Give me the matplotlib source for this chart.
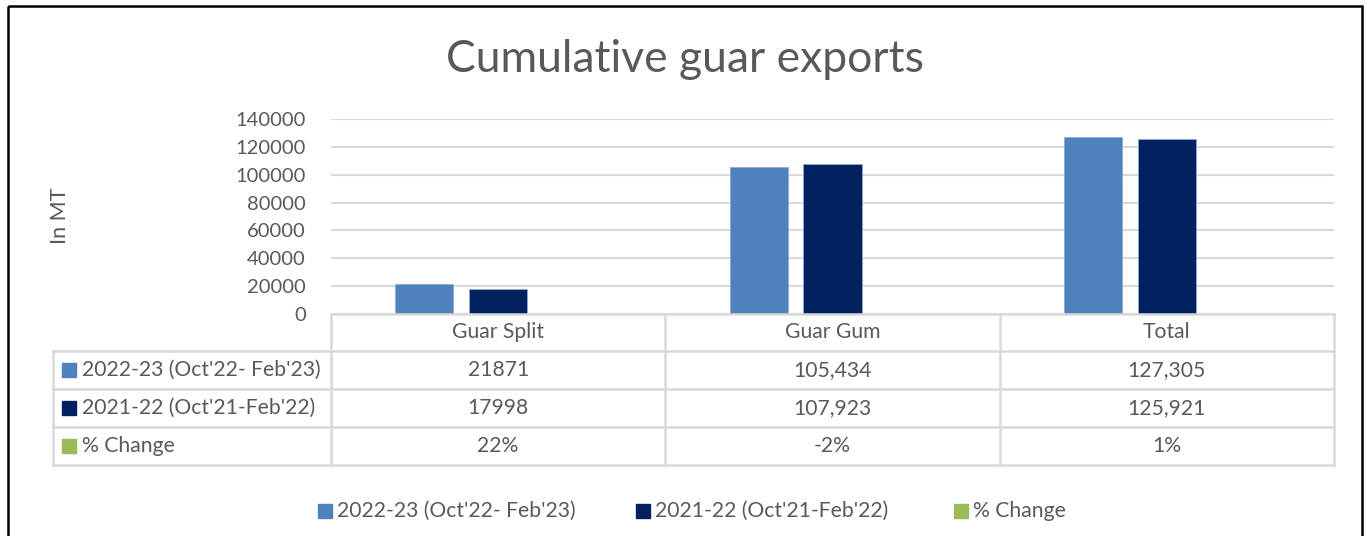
import matplotlib
matplotlib.use("Agg")
import matplotlib.pyplot as plt
from matplotlib.patches import Rectangle
from matplotlib.lines import Line2D
import numpy as np

plt.rcParams['font.family'] = ['Lato', 'DejaVu Sans']

categories = ["Guar Split", "Guar Gum", "Total"]
series_names = ["2022-23 (Oct'22- Feb'23)", "2021-22 (Oct'21-Feb'22)", "% Change"]
vals_2223 = [21871, 105434, 127305]
vals_2122 = [17998, 107923, 125921]
pct_change = [22, -2, 1]
value_fmt = ["{:d}", "{:,d}", "{:,d}"]
yticks = [0, 20000, 40000, 60000, 80000, 100000, 120000, 140000]

colors = ["#4f81bd", "#03215e", "#9bbb59"]
txt = "#595959"
grid_c = "#d9d9d9"

W, H = 1369, 536
fig = plt.figure(figsize=(W / 100, H / 100), dpi=100)

def fx(px):
    return px / W

def fy(py):
    return 1 - py / H

x_left, x_right = 331, 1334
y_zero, y_top = 314, 119
ax = fig.add_axes([fx(x_left), fy(y_zero), fx(x_right) - fx(x_left), fy(y_top) - fy(y_zero)])
x = np.arange(len(categories))
step = 0.221
bw = 0.1735
series = [vals_2223, vals_2122, [p / 100 for p in pct_change]]
for i, (vals, c) in enumerate(zip(series, colors)):
    ax.bar(x + (i - 1) * step, vals, width=bw, color=c, edgecolor="#8eaadb" if i < 2 else c,
           linewidth=0.6, zorder=3)
ax.set_xlim(-0.5, len(categories) - 0.5)
ax.set_ylim(0, 140000)
ax.set_yticks(yticks)
ax.set_yticklabels([str(v) for v in yticks], fontsize=14.5, color=txt)
ax.tick_params(axis='y', length=0, pad=18)
ax.set_xticks([])
for s in ax.spines.values():
    s.set_visible(False)
ax.yaxis.grid(True, color=grid_c, linewidth=1.5, zorder=0)
ax.set_axisbelow(True)

# overlay in pixel coordinates
ov = fig.add_axes([0, 0, 1, 1])
ov.set_xlim(0, W)
ov.set_ylim(H, 0)
ov.axis("off")
ov.patch.set_alpha(0)

ov.text(685, 60, "Cumulative guar exports", fontsize=32, color=txt, ha="center", va="center")
ov.text(60, 216, "In MT", fontsize=15.5, color=txt, rotation=90, ha="center", va="center")

# table
col_edges = [x_left + (x_right - x_left) * k / len(categories) for k in range(len(categories) + 1)]
row_y = [314, 351, 389, 427, 465]
lw = 1.8
ov.add_line(Line2D([x_left, x_right], [row_y[0]] * 2, color=grid_c, lw=lw))
for yy in row_y[1:]:
    ov.add_line(Line2D([53, x_right], [yy, yy], color=grid_c, lw=lw))
ov.add_line(Line2D([53, 53], [row_y[1], row_y[-1]], color=grid_c, lw=lw))
for xx in col_edges:
    ov.add_line(Line2D([xx, xx], [row_y[0], row_y[-1]], color=grid_c, lw=lw))

fs = 15.2
for k, cat in enumerate(categories):
    cx = (col_edges[k] + col_edges[k + 1]) / 2
    ov.text(cx, (row_y[0] + row_y[1]) / 2, cat, fontsize=fs, color=txt, ha="center", va="center")

table_rows = [
    [value_fmt[k].format(v) for k, v in enumerate(vals_2223)],
    [value_fmt[k].format(v) for k, v in enumerate(vals_2122)],
    ["{:d}%".format(p) for p in pct_change],
]
for r, (name, c, cells) in enumerate(zip(series_names, colors, table_rows)):
    cy = (row_y[r + 1] + row_y[r + 2]) / 2
    ov.add_patch(Rectangle((62, cy - 7), 14, 14, color=c))
    ov.text(82, cy, name, fontsize=fs, color=txt, ha="left", va="center")
    for k, cell in enumerate(cells):
        cx = (col_edges[k] + col_edges[k + 1]) / 2
        ov.text(cx, cy, cell, fontsize=fs, color=txt, ha="center", va="center")

# legend
leg_x = [318, 636, 954]
for lx, name, c in zip(leg_x, series_names, colors):
    ov.add_patch(Rectangle((lx, 504), 14, 14, color=c))
    ov.text(lx + 19, 511, name, fontsize=fs, color=txt, ha="left", va="center")

# border
ov.add_patch(Rectangle((8, 6), 1354, 560, fill=False, edgecolor="black", lw=1.8))

fig.savefig("out.png", dpi=100, facecolor="white")
